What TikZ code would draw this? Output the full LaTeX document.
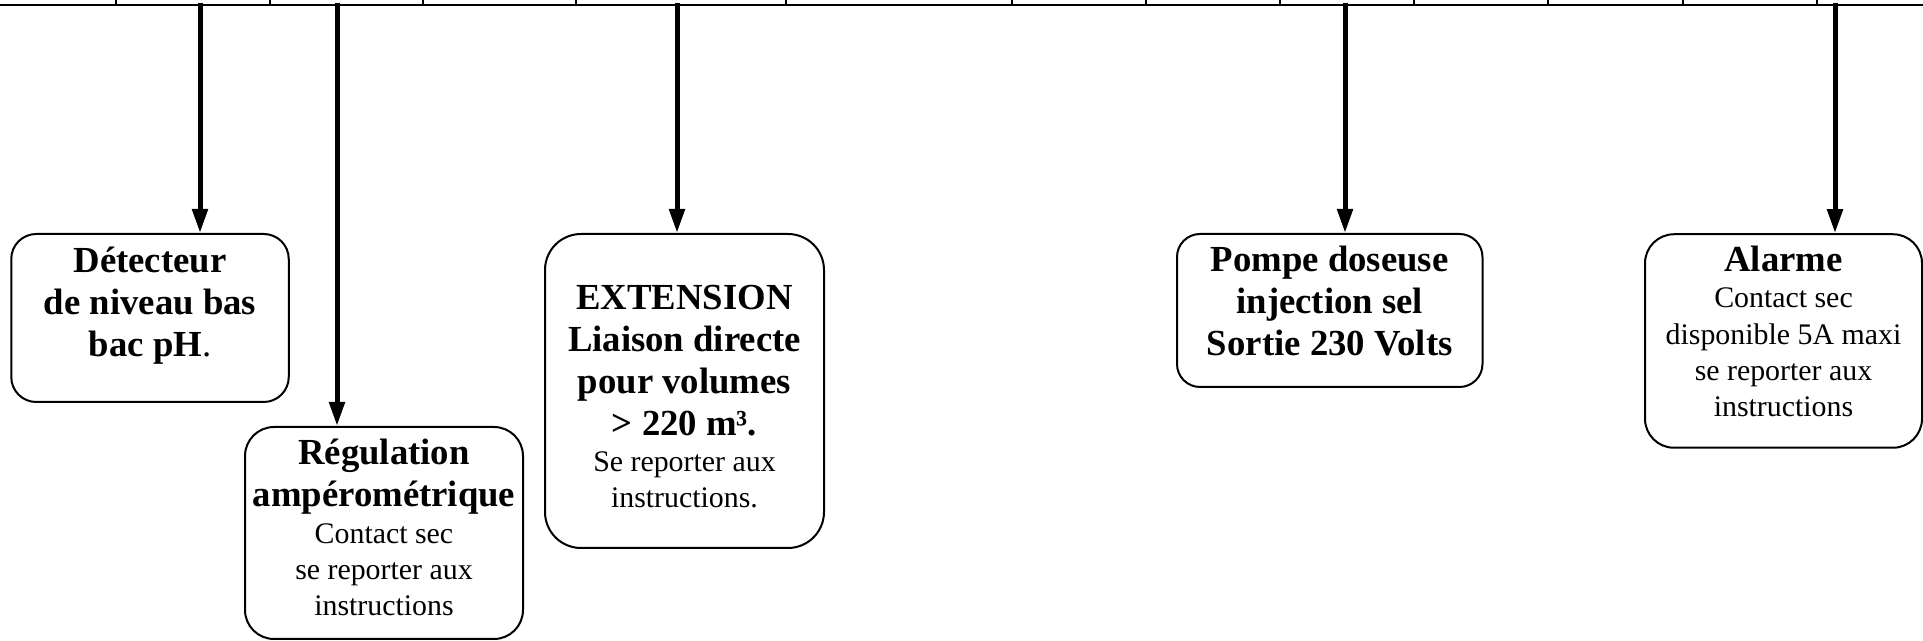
\documentclass[tikz,border=0pt]{standalone}
\usepackage{fontspec}
\setmainfont{Liberation Serif}
\usetikzlibrary{
    arrows.meta,
    calc
}
\newcommand{\lgras}[1]{{\fontsize{10.45}{11.95}\selectfont\bfseries #1\par}}
\newcommand{\lnorm}[1]{{\fontsize{8.5}{10.3}\selectfont #1\par}}
\tikzset{
  boite/.style={
    draw=black,
    line width=0.2mm,
    rounded corners=2.8mm,
    inner sep=0pt
  },
  texte/.style={
    anchor=base,
    text width=27.5mm,
    align=flush center,
    inner sep=0pt
  }
}

\begin{document}
\begin{tikzpicture}[x=0.1mm,y=0.1mm,>={Triangle[length=2.4mm,width=1.5mm]}]
    \useasboundingbox (0,0) rectangle (1923,-641);

    % bornier
    \draw[black,line width=0.2mm] (0,-4.7) -- (1923,-4.7);
    \foreach \x in {116,270,423,576,786,1012,1146,1280,1414,1548,1683,1817}
        \draw[black,line width=0.18mm] (\x,0) -- (\x,-4.7);

    % boites
    \node[boite,minimum width=27.75mm,minimum height=16.8mm,rounded corners=2.5mm]
        (detect) at (150,-318) {};
    \node[boite,minimum width=27.8mm,minimum height=21.2mm,rounded corners=2.9mm]
        (regul) at (384,-533) {};
    \node[boite,minimum width=27.9mm,minimum height=31.4mm,rounded corners=3.6mm]
        (ext) at (684.5,-391) {};
    \node[boite,minimum width=30.55mm,minimum height=15.3mm,rounded corners=2.3mm]
        (pompe) at (1329.75,-310.5) {};
    \node[boite,minimum width=27.7mm,minimum height=21.35mm,rounded corners=2.9mm]
        (alarme) at (1783.5,-341) {};

    % textes
    \node[texte] (detect-t) at ($(detect.north)+(0,-39.5)$)
        {\lgras{Détecteur}\lgras{de niveau bas}\lgras{bac pH{\mdseries .}}};
    \node[texte] (regul-t) at ($(regul.north)+(0,-39)$)
        {\lgras{Régulation}\lgras{ampérométrique}%
         \lnorm{Contact sec}\lnorm{se reporter aux}\lnorm{instructions}};
    \node[texte] (ext-t) at ($(ext.north)+(0,-76.5)$)
        {\lgras{EXTENSION}\lgras{Liaison directe}\lgras{pour volumes}\lgras{> 220 m³.}%
         \lnorm{Se reporter aux}\lnorm{instructions.}};
    \node[texte] (pompe-t) at ($(pompe.north)+(0,-38.5)$)
        {\lgras{Pompe doseuse}\lgras{injection sel}\lgras{Sortie 230 Volts}};
    \node[texte] (alarme-t) at ($(alarme.north)+(0,-38.5)$)
        {\lgras{Alarme}\lnorm{Contact sec}\lnorm{disponible 5A maxi}%
         \lnorm{se reporter aux}\lnorm{instructions}};

    % fleches
    \coordinate (a1) at (200,-3.5);
    \coordinate (a2) at (337,-3.5);
    \coordinate (a3) at (677,-3.5);
    \coordinate (a4) at (1345,-3.5);
    \coordinate (a5) at (1835,-3.5);
    \draw[black,line width=0.5mm,->] (a1) -- (a1 |- detect.north);
    \draw[black,line width=0.5mm,->] (a2) -- (a2 |- regul.north);
    \draw[black,line width=0.5mm,->] (a3) -- (a3 |- ext.north);
    \draw[black,line width=0.5mm,->] (a4) -- (a4 |- pompe.north);
    \draw[black,line width=0.5mm,->] (a5) -- (a5 |- alarme.north);
\end{tikzpicture}
\end{document}
